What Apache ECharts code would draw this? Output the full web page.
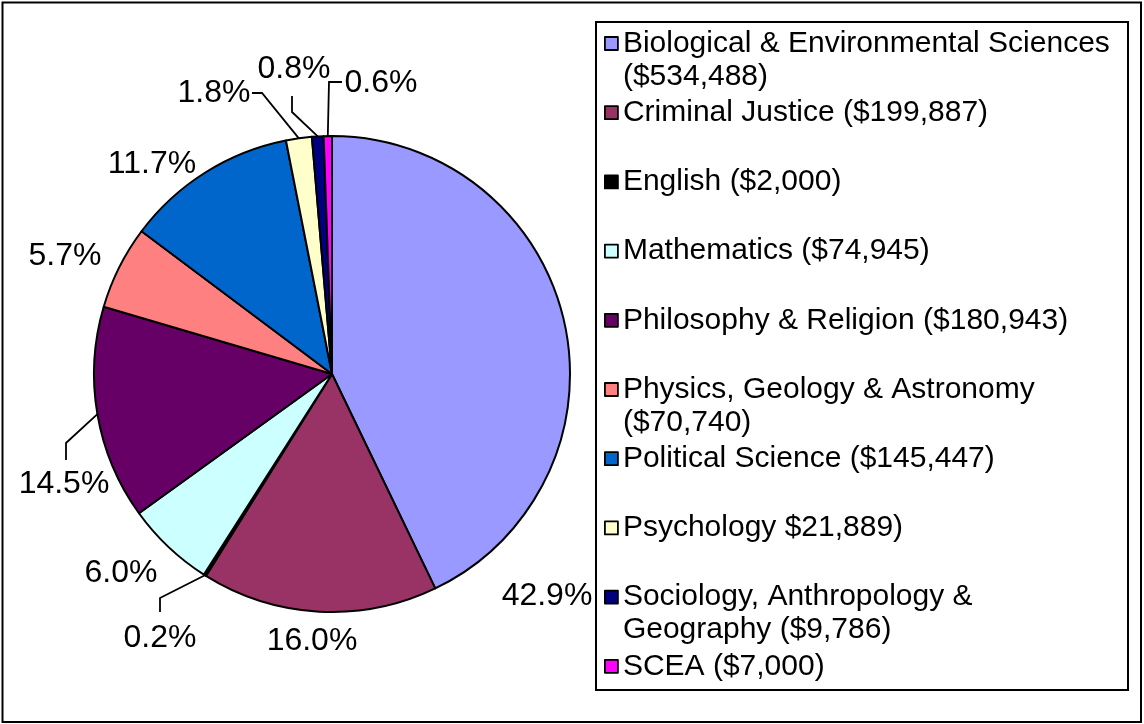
<!DOCTYPE html>
<html><head><meta charset="utf-8">
<script src="https://cdn.jsdelivr.net/npm/echarts@6/dist/echarts.min.js"></script>
<style>html,body{margin:0;padding:0;background:#fff}#c{width:1144px;height:724px}</style>
</head><body><div id="c"></div>
<script>
// ---- data ----
const categories = ['Biological & Environmental Sciences','Criminal Justice','English','Mathematics','Philosophy & Religion','Physics, Geology & Astronomy','Political Science','Psychology','Sociology, Anthropology & Geography','SCEA'];
const amounts = [534488,199887,2000,74945,180943,70740,145447,21889,9786,7000];
const legendLines = [
  ['Biological & Environmental Sciences','($534,488)'],
  ['Criminal Justice ($199,887)'],
  ['English ($2,000)'],
  ['Mathematics ($74,945)'],
  ['Philosophy & Religion ($180,943)'],
  ['Physics, Geology & Astronomy','($70,740)'],
  ['Political Science ($145,447)'],
  ['Psychology $21,889)'],
  ['Sociology, Anthropology &','Geography ($9,786)'],
  ['SCEA ($7,000)']
];
// ---- style ----
const colors = ['#9999FF','#993366','#000000','#CCFFFF','#660066','#FF8080','#0066CC','#FFFFCC','#000080','#FF00FF'];
const FONT = '"Liberation Sans", Arial, sans-serif';
const CX = 332, CY = 374, R = 238;
const LEG_FONT = 30, LEG_LH = 33, LEG_X = 604, LEG_Y0 = 45, LEG_STEP = 69.2, ICON = 13;
// label placement offsets from pie centre (style), optional leader bends
const labelPlace = [
  {pos:[215,222]},
  {pos:[-20,267]},
  {pos:[-172,264], bend:[[-172,224],[-172,238]]},
  {pos:[-211,199]},
  {pos:[-268,110], bend:[[-266,69],[-266,86]]},
  {pos:[-267,-118]},
  {pos:[-180,-210]},
  {pos:[-118,-281], bend:[[-70,-281],[-80,-281]]},
  {pos:[-38,-305], bend:[[-40,-262],[-40,-278]]},
  {pos:[49,-291], bend:[[-3,-292],[10,-292]]}
];

const total = amounts.reduce((a,b)=>a+b,0);
const mids = [];
let acc = 0;
amounts.forEach(v => { mids.push((acc + v/2)/total*2*Math.PI); acc += v; });

const legends = categories.map((c,i)=>({
  orient: 'vertical',
  left: LEG_X,
  top: LEG_Y0 + i*LEG_STEP - 1.5*LEG_LH,
  padding: 0,
  itemWidth: ICON, itemHeight: ICON,
  selectedMode: false,
  icon: 'rect',
  itemStyle: {borderColor:'#000', borderWidth:1.8},
  data: [c],
  formatter: function(){
    const l = legendLines[i];
    return '{b| }\n{t|' + l[0] + '}\n' + (l[1] ? '{t|' + l[1] + '}' : '{b| }');
  },
  textStyle: {
    color:'#000', fontFamily: FONT, fontSize: LEG_FONT,
    rich: {
      b: {fontSize: LEG_FONT, lineHeight: LEG_LH, fontFamily: FONT},
      t: {fontSize: LEG_FONT, lineHeight: LEG_LH, fontFamily: FONT, color:'#000'}
    }
  }
}));

const chart = echarts.init(document.getElementById('c'), null, {renderer:'canvas'});
chart.setOption({
  animation: false,
  backgroundColor: '#ffffff',
  graphic: [
    {type:'rect', shape:{x:2.5, y:2.5, width:1138.5, height:719.5}, style:{stroke:'#000', lineWidth:2, fill:null}, z:10},
    {type:'rect', shape:{x:596, y:22, width:532, height:668}, style:{stroke:'#000', lineWidth:2, fill:null}, z:10}
  ],
  legend: legends,
  series: [{
    type: 'pie',
    center: [CX, CY],
    radius: R,
    startAngle: 90,
    clockwise: true,
    avoidLabelOverlap: false,
    minShowLabelAngle: 0,
    emphasis: {disabled: true},
    itemStyle: {borderColor:'#000', borderWidth:2},
    label: {
      show: true, position: 'outside',
      color:'#000', fontFamily: FONT, fontSize: 32,
      formatter: p => (p.value/total*100).toFixed(1) + '%'
    },
    labelLine: {show: true, length: 10, length2: 10, smooth: false, lineStyle:{color:'#000', width:1.8}},
    labelLayout: function(params){
      const i = params.dataIndex;
      const p = labelPlace[i];
      const out = {x: CX + p.pos[0], y: CY + p.pos[1], align:'center', verticalAlign:'middle'};
      if (p.bend) {
        const a = mids[i];
        out.labelLinePoints = [
          [CX + R*Math.sin(a), CY - R*Math.cos(a)],
          [CX + p.bend[0][0], CY + p.bend[0][1]],
          [CX + p.bend[1][0], CY + p.bend[1][1]]
        ];
      }
      return out;
    },
    data: categories.map((c,i)=>({
      name: c, value: amounts[i],
      itemStyle: {color: colors[i]},
      labelLine: {show: !!labelPlace[i].bend}
    }))
  }]
});
</script>
</body></html>
